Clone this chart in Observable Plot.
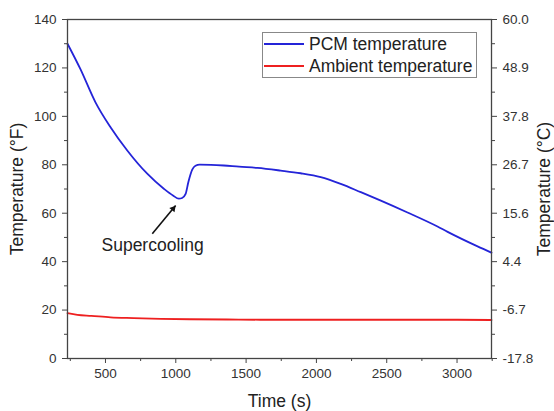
<!DOCTYPE html>
<html>
<head>
<meta charset="utf-8">
<script src="https://cdn.jsdelivr.net/npm/d3@7"></script>
<script src="https://cdn.jsdelivr.net/npm/@observablehq/plot@0.6"></script>
<style>
  html, body { margin: 0; padding: 0; background: #fff; }
  #wrap { position: relative; width: 554px; height: 411px; font-family: "Liberation Sans", Arial, sans-serif; }
  #legend { position: absolute; left: 262px; top: 32px; width: 215px; height: 46px; border: 1px solid #888; background: #fff; box-sizing: border-box; }
  .item { position: absolute; left: 0; height: 20px; display: flex; align-items: center; font-size: 17.5px; color: #222; white-space: nowrap; }
  .sw { display: inline-block; width: 40px; height: 2px; margin-left: 1px; margin-right: 5px; }
</style>
</head>
<body>
<div id="wrap"></div>
<script>
// ---- data ----
const pcmTime = [230, 322, 429, 536, 655, 797, 915, 980, 1022, 1045, 1070, 1090, 1117, 1140, 1170, 1250, 1342, 1450, 1580, 1746, 1888, 2031, 2173, 2315, 2458, 2648, 2861, 2933, 3146, 3245];
const pcmTemp = [130, 119.5, 105.8, 95.5, 85.9, 76.3, 70.1, 67.3, 66.0, 66.3, 68.0, 73.0, 78.0, 79.6, 80.1, 80.0, 79.7, 79.2, 78.7, 77.6, 76.5, 74.9, 72.1, 68.7, 65.2, 60.3, 54.5, 52.3, 46.3, 43.7];
const ambTime = [230, 300, 400, 536, 700, 892, 1100, 1366, 1600, 2000, 2500, 3000, 3245];
const ambTemp = [18.7, 18.0, 17.6, 17.0, 16.7, 16.4, 16.2, 16.1, 16.0, 16.0, 16.0, 16.0, 15.9];
const seriesNames = ["PCM temperature", "Ambient temperature"];
const seriesColors = ["#2424d8", "#ee2020"];
const xDomain = [230, 3245];
const yDomain = [0, 140];
const xMajorTicks = [500, 1000, 1500, 2000, 2500, 3000];
const xMinorTicks = [250, 750, 1250, 1750, 2250, 2750, 3250];
const yMajorTicks = [0, 20, 40, 60, 80, 100, 120, 140];
const yMinorTicks = [10, 30, 50, 70, 90, 110, 130];
const annotText = ["Supercooling"];
const annotX = [835];
const annotY = [46.6];
const arrowFrom = [833, 51.5];
const arrowTo = [999, 63.2];

const pcm = pcmTime.map((t, i) => ({t, v: pcmTemp[i]}));
const amb = ambTime.map((t, i) => ({t, v: ambTemp[i]}));
const toC = d => ((d - 32) * 5 / 9).toFixed(1);
const plain = d => String(d);

const axisColor = "#444";
const tickFont = 13.5;
const labelFont = 17.5;
const chart = Plot.plot({
  width: 554, height: 411,
  marginLeft: 67, marginRight: 63, marginTop: 19, marginBottom: 53,
  style: {fontFamily: "'Liberation Sans', Arial, sans-serif", background: "transparent", color: "#333"},
  x: {domain: xDomain},
  y: {domain: yDomain},
  marks: [
    Plot.line(amb, {x: "t", y: "v", stroke: seriesColors[1], strokeWidth: 1.8, curve: "monotone-x"}),
    Plot.line(pcm, {x: "t", y: "v", stroke: seriesColors[0], strokeWidth: 1.8, curve: "monotone-x"}),
    Plot.link([0], {x1: () => arrowFrom[0], y1: () => arrowFrom[1], x2: () => arrowTo[0], y2: () => arrowTo[1], stroke: "#111", strokeWidth: 1.6}),
    Plot.dot([0], {x: () => arrowTo[0], y: () => arrowTo[1], symbol: "triangle2", r: 3.2, fill: "#111", stroke: "none", rotate: 39.5, dx: -2.5, dy: 3.2}),
    Plot.text(annotText, {x: (d, i) => annotX[i], y: (d, i) => annotY[i], text: d => d, fontSize: labelFont, fill: "#222"}),
    // bottom axis
    Plot.axisX({ticks: xMinorTicks, tickSize: 3, tickFormat: () => "", label: null, stroke: axisColor}),
    Plot.axisX({ticks: xMajorTicks, tickSize: 5, tickPadding: 5, fontSize: tickFont, tickFormat: plain, label: null, stroke: axisColor}),
    Plot.axisX({ticks: [], label: "Time (s)", labelAnchor: "center", labelOffset: 48, labelArrow: "none", fontSize: labelFont, fill: "#222"}),
    // left axis
    Plot.axisY({ticks: yMinorTicks, tickSize: 3, tickFormat: () => "", label: null, stroke: axisColor}),
    Plot.axisY({ticks: yMajorTicks, tickSize: 5, tickPadding: 6, fontSize: tickFont, tickFormat: plain, label: null, stroke: axisColor}),
    Plot.axisY({ticks: [], label: "Temperature (°F)", labelAnchor: "center", labelOffset: 57, labelArrow: "none", fontSize: labelFont, fill: "#222"}),
    // right axis (°C)
    Plot.axisY({anchor: "right", ticks: yMinorTicks, tickSize: 3, tickFormat: () => "", label: null, stroke: axisColor}),
    Plot.axisY({anchor: "right", ticks: yMajorTicks, tickSize: 5, tickPadding: 6, fontSize: tickFont, tickFormat: toC, label: null, stroke: axisColor}),
    Plot.axisY({anchor: "right", ticks: [], label: "Temperature (°C)", labelAnchor: "center", labelOffset: 58, labelArrow: "none", fontSize: labelFont, fill: "#222"}),
    Plot.frame({stroke: axisColor, strokeWidth: 1.3})
  ]
});

const wrap = document.getElementById("wrap");
wrap.appendChild(chart);
const legend = document.createElement("div");
legend.id = "legend";
seriesNames.forEach((name, i) => {
  const item = document.createElement("div");
  item.className = "item";
  item.style.top = (1 + i * 22) + "px";
  const sw = document.createElement("span");
  sw.className = "sw";
  sw.style.background = seriesColors[i];
  item.appendChild(sw);
  item.appendChild(document.createTextNode(name));
  legend.appendChild(item);
});
wrap.appendChild(legend);
</script>
</body>
</html>
